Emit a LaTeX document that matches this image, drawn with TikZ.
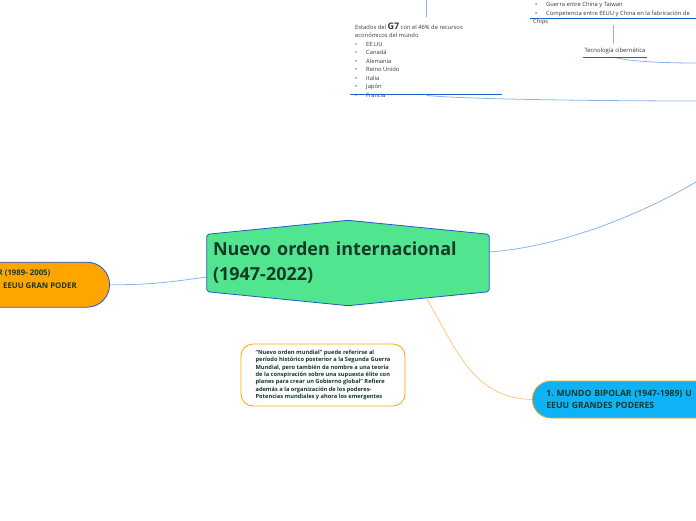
\documentclass[tikz,border=0pt]{standalone}
\usepackage{fontspec}
\setmainfont{Open Sans}
\usetikzlibrary{positioning,backgrounds}

\definecolor{hubgreen}{RGB}{82,229,143}
\definecolor{hubline}{RGB}{30,90,200}
\definecolor{inkgreen}{RGB}{22,58,40}
\definecolor{orangefill}{RGB}{255,165,0}
\definecolor{cyanfill}{RGB}{14,178,245}
\definecolor{linkblue}{RGB}{140,180,235}
\definecolor{linkorange}{RGB}{255,200,125}
\definecolor{ulblue}{RGB}{25,95,205}
\definecolor{textgray}{RGB}{55,55,55}

\newcommand{\itm}[1]{\makebox[11pt][l]{\textbullet}#1}

\begin{document}
\begin{tikzpicture}[x=1pt, y=-1pt,
  link/.style={draw=linkblue, line width=0.8pt},
  warmlink/.style={draw=linkorange, line width=0.8pt},
  uline/.style={draw=ulblue, line width=1.3pt},
  small/.style={font=\fontsize{5.8}{8.5}\selectfont, text=textgray, align=left, inner sep=0pt},
  pill/.style={draw, line width=0.8pt, font=\fontsize{8.6}{12.7}\selectfont\bfseries, text=inkgreen, align=left},
  pilltext/.style={font=\fontsize{7.8}{12.7}\selectfont\bfseries, text=inkgreen, align=left, inner sep=0pt},
  hub/.style={font=\fontsize{18}{25}\selectfont\bfseries, text=inkgreen, align=left, text width=270pt, inner xsep=6pt, minimum height=57pt},
  hexa/.style={draw=hubline, fill=hubgreen, line width=0.8pt, rounded corners=2pt},
  note/.style={draw=orangefill, line width=0.8pt, rounded corners=12pt, fill=white, font=\fontsize{5.7}{7.45}\selectfont\bfseries, text=inkgreen, align=left, minimum width=164pt, minimum height=62pt}]
  \useasboundingbox (0,0) rectangle (696,520);

  \node[hub] (hub) at (348,263) {Nuevo orden internacional\\(1947-2022)};
  \node[pill, fill=orangefill, draw=hubline, rounded corners=22.5pt, minimum width=200pt, minimum height=45pt, anchor=east] (unipolar) at (110,284.7) {};
  \node[pilltext, anchor=north west] (unipolartext) at (-2.5,270) {R (1989- 2005)\\\hspace*{5.5pt}EEUU GRAN PODER};
  \node[pill, fill=cyanfill, draw=orangefill, rounded corners=18.5pt, minimum height=37pt, inner xsep=14pt, text width=190pt, anchor=west] (bipolar) at (532,399.5) {1.\ MUNDO BIPOLAR (1947-1989) U\\EEUU GRANDES PODERES};
  \node[note] (nota) at (323,375) {“Nuevo orden mundial” puede referirse al\\período histórico posterior a la Segunda Guerra\\Mundial, pero también da nombre a una teoría\\de la conspiración sobre una supuesta élite con\\planes para crear un Gobierno global”\ Refiere\\además a la organización de los poderes-\\Potencias mundiales y ahora los emergentes};

  \node[small, anchor=north west] (g7) at (355,22.5) {Estados del {\fontsize{9}{9}\selectfont\bfseries G7} con el 46\% de recursos\\económicos del mundo\\\itm{EE.UU}\\\itm{Canadá}\\\itm{Alemania}\\\itm{Reino Unido}\\\itm{Italia}\\\itm{Japón}\\\itm{Francia}};
  \node[small, anchor=north west] (conflictos) at (533,2.2) {\hspace*{2pt}\itm{Guerra entre China y Taiwan}\\\hspace*{2pt}\itm{Competencia entre EEUU y China en la fabricación de}\\Chips};
  \node[small, font=\fontsize{5.9}{7}\selectfont, inner ysep=3.5pt, minimum width=63pt] (tecno) at (615,51) {Tecnología cibernética};

  \coordinate (g7top) at (426,0);
  \coordinate (g7link) at (427,95.5);
  \coordinate (g7out) at (696,101);
  \coordinate (chips) at (613,25);
  \coordinate (tecnoout) at (696,63);
  \coordinate (offright) at (696,182);

  \draw[uline] (350,94.7) -- (502,94.7);
  \draw[uline] (530,18.3) -- (700,18.3);
  \draw[uline] (tecno.south west) -- (tecno.south east);

  \begin{scope}[on background layer]
    \draw[link] (g7top) -- ++(0,17);
    \draw[link] (g7link) .. controls +(40,4) and +(-80,0) .. (g7out);
    \draw[link] (chips) -- (chips |- tecno.north);
    \draw[link] ([xshift=1pt]tecno.south) .. controls +(15,4) and +(-30,0) .. (tecnoout);
    \draw[link] ([yshift=11pt]hub.east) .. controls (560,247) and (640,215) .. (offright);
    \draw[link] ([yshift=-14pt]hub.west) .. controls (170,282) and (150,285) .. (unipolar.east);
    \draw[warmlink] ([xshift=74pt,yshift=1pt]hub.south) .. controls (455,345) and (470,398) .. (bipolar.west);
    \path[hexa] (hub.north west) -- ([yshift=14pt]hub.north) -- (hub.north east) -- (hub.south east) -- ([yshift=-14pt]hub.south) -- (hub.south west) -- cycle;
  \end{scope}
\end{tikzpicture}
\end{document}
